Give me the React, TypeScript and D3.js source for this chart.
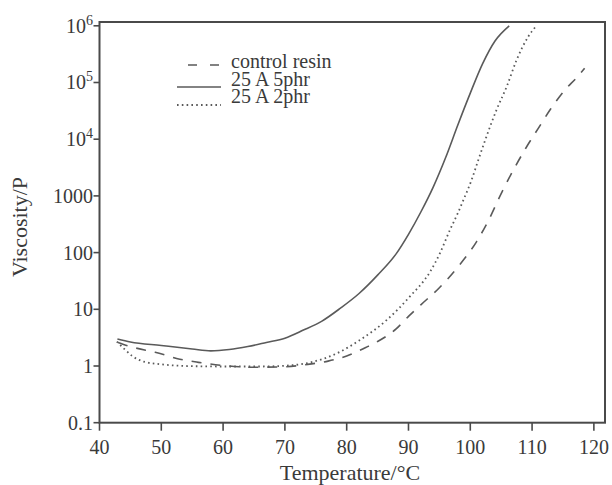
import React from "react";
import * as d3 from "d3";

const xTicks = [40, 50, 60, 70, 80, 90, 100, 110, 120];
const yTicks = [0.1, 1, 10, 100, 1000, 1e4, 1e5, 1e6];
const yTickLabels = ["0.1", "1", "10", "100", "1000", "10^4", "10^5", "10^6"];

const controlT = [43, 45, 49, 53, 56, 60, 65, 70, 74, 77, 80, 83, 85, 88, 90, 92, 95, 98, 101, 103, 105, 107, 109, 111, 113, 115.5, 117, 118.5];
const controlV = [2.6, 2.2, 1.75, 1.32, 1.16, 1.02, 0.95, 0.97, 1.08, 1.22, 1.5, 2.1, 2.7, 4.5, 7.5, 12, 24, 56, 155, 380, 1100, 2900, 7000, 15500, 34000, 78000, 115000, 178000];

const phr5T = [42.9, 45, 50, 55, 58, 61, 64, 67, 70, 73, 76, 79, 82, 85, 88, 90, 92, 94, 96, 98, 100, 102, 104, 106.3];
const phr5V = [3.0, 2.65, 2.3, 2.0, 1.85, 1.95, 2.2, 2.6, 3.1, 4.3, 6.2, 10.5, 19, 40, 95, 210, 520, 1430, 4700, 18000, 65000, 215000, 540000, 1000000];

const phr2T = [42.8, 44, 45.3, 47.2, 50, 54, 60, 66, 71, 74.6, 78.4, 82.2, 86.5, 90.2, 93.5, 95.1, 96.7, 98, 98.9, 100.2, 101.3, 102.6, 104.2, 105.9, 107.5, 109.4, 110.7];
const phr2V = [2.7, 2.0, 1.5, 1.19, 1.07, 1.0, 0.98, 0.98, 1.03, 1.19, 1.67, 2.9, 6.5, 16.7, 46, 98, 250, 500, 850, 1900, 4300, 11000, 32000, 85000, 250000, 650000, 1000000];

const legendLabels = ["control resin", "25 A 5phr", "25 A 2phr"];

const FONT = "'Liberation Serif', 'Times New Roman', serif";
const AXIS = "#4a4a4a";
const CURVE = "#5a5a5a";
const TEXT = "#3a3a3a";

export default function App() {
  const left = 99.5, right = 605, top = 22, bottom = 422.7;
  const x = d3.scaleLinear().domain([40, 121.8]).range([left, right]);
  const y = d3.scaleLog().domain([0.1, Math.pow(10, 6.067)]).range([bottom, top]);

  const line = d3
    .line<[number, number]>()
    .x((d) => x(d[0]))
    .y((d) => y(d[1]))
    .curve(d3.curveMonotoneX);

  const zip = (t: number[], v: number[]) => t.map((tt, i) => [tt, v[i]] as [number, number]);

  const series = [
    { data: zip(controlT, controlV), dash: "10,9", width: 1.6 },
    { data: zip(phr5T, phr5V), dash: undefined, width: 1.6 },
    { data: zip(phr2T, phr2V), dash: "1.6,3.2", width: 1.8 },
  ];

  return (
    <svg
      width={612}
      height={485}
      viewBox="0 0 612 485"
      style={{ position: "absolute", left: 0, top: 0, display: "block", background: "#fff" }}
    >
      <g>
        {series.map((s, i) => (
          <path key={i} d={line(s.data) || ""} fill="none" stroke={CURVE} strokeWidth={s.width} strokeDasharray={s.dash} />
        ))}
      </g>
      <rect x={left} y={top} width={right - left} height={bottom - top} fill="none" stroke={AXIS} strokeWidth={2} />
      {xTicks.map((t) => (
        <g key={t}>
          <line x1={x(t)} x2={x(t)} y1={bottom} y2={bottom + 8} stroke={AXIS} strokeWidth={1.6} />
          <text x={x(t)} y={453.5} textAnchor="middle" fontFamily={FONT} fontSize={20} fill={TEXT}>
            {t}
          </text>
        </g>
      ))}
      {yTicks.map((v, i) => {
        const lab = yTickLabels[i];
        const sup = lab.includes("^");
        const [base, exp] = lab.split("^");
        return (
          <g key={v}>
            <line x1={left - 6} x2={left} y1={y(v)} y2={y(v)} stroke={AXIS} strokeWidth={1.6} />
            <text x={93} y={y(v) + 7} textAnchor="end" fontFamily={FONT} fontSize={20} fill={TEXT}>
              {base}
              {sup && (
                <tspan fontSize={14} dy={-8}>
                  {exp}
                </tspan>
              )}
            </text>
          </g>
        );
      })}
      <text x={350} y={480} textAnchor="middle" fontFamily={FONT} fontSize={22} fill={TEXT}>
        Temperature/°C
      </text>
      <text transform="translate(27,227) rotate(-90)" textAnchor="middle" fontFamily={FONT} fontSize={22} fill={TEXT}>
        Viscosity/P
      </text>
      <g>
        <line x1={188} x2={219} y1={65} y2={65} stroke={CURVE} strokeWidth={1.6} strokeDasharray="9,13" />
        <line x1={177} x2={221} y1={87} y2={87} stroke={CURVE} strokeWidth={1.6} />
        <line x1={177} x2={221} y1={105} y2={105} stroke={CURVE} strokeWidth={1.8} strokeDasharray="1.6,3.2" />
        {legendLabels.map((l, i) => (
          <text key={l} x={231} y={[68, 85.5, 103][i]} fontFamily={FONT} fontSize={20} fill={TEXT}>
            {l}
          </text>
        ))}
      </g>
    </svg>
  );
}
